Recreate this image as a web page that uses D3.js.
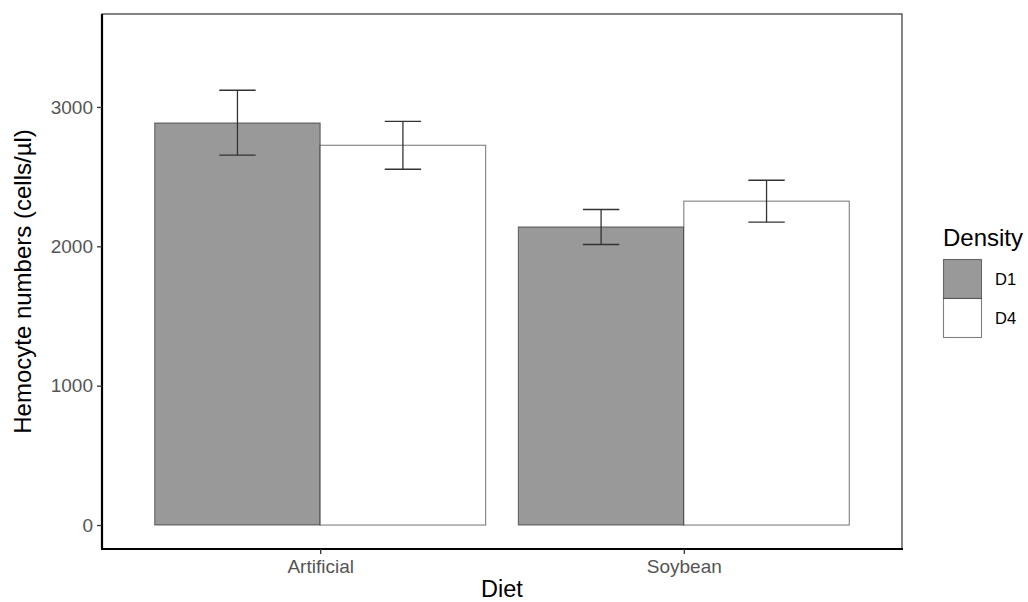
<!DOCTYPE html>
<html>
<head>
<meta charset="utf-8">
<script src="https://cdn.jsdelivr.net/npm/d3@7"></script>
<style>
  html, body { margin: 0; padding: 0; background: #fff; }
  svg { display: block; font-family: "Liberation Sans", Arial, sans-serif; }
</style>
</head>
<body>
<svg id="chart" width="1028" height="602"></svg>
<script>
// Hemocyte counts by diet and rearing density (mean ± SE)
const diets = ["Artificial", "Soybean"];
const densities = ["D1", "D4"];
const meanD1 = [2885, 2139];
const meanD4 = [2725, 2324];
const lowerD1 = [2654, 2013];
const upperD1 = [3120, 2264];
const lowerD4 = [2553, 2173];
const upperD4 = [2897, 2474];
const yTicks = [0, 1000, 2000, 3000];

const fills = { D1: "#999999", D4: "#ffffff" };

const rows = [];
diets.forEach((d, i) => {
  rows.push({ diet: d, density: "D1", mean: meanD1[i], lo: lowerD1[i], hi: upperD1[i] });
  rows.push({ diet: d, density: "D4", mean: meanD4[i], lo: lowerD4[i], hi: upperD4[i] });
});

const panel = { left: 102, right: 902, top: 14, bottom: 549 };
const svg = d3.select("#chart");

// discrete x axis: categories at 1..n with 0.6 unit padding on each side
const xUnit = d3.scaleLinear().domain([0.4, diets.length + 0.6]).range([panel.left, panel.right]);
const xPos = d => xUnit(diets.indexOf(d) + 1);
const barW = xUnit(1.455) - xUnit(1.0); // each dodged bar is ~0.45 units wide

const y = d3.scaleLinear().domain([-172, 3667]).range([panel.bottom, panel.top]);

// bars
svg.append("g").selectAll("rect").data(rows).join("rect")
  .attr("x", d => xPos(d.diet) + (d.density === "D1" ? -barW : 0))
  .attr("y", d => y(d.mean))
  .attr("width", barW)
  .attr("height", d => y(0) - y(d.mean))
  .attr("fill", d => fills[d.density])
  .attr("stroke", "#000")
  .attr("stroke-opacity", 0.5)
  .attr("stroke-width", 1.1);

// error bars
const capHalf = barW * 0.11;
const eb = svg.append("g").attr("stroke", "#333").attr("stroke-width", 1.3).attr("fill", "none");
rows.forEach(d => {
  const cx = xPos(d.diet) + (d.density === "D1" ? -barW / 2 : barW / 2);
  eb.append("line").attr("x1", cx).attr("x2", cx).attr("y1", y(d.lo)).attr("y2", y(d.hi));
  eb.append("line").attr("x1", cx - capHalf).attr("x2", cx + capHalf).attr("y1", y(d.lo)).attr("y2", y(d.lo));
  eb.append("line").attr("x1", cx - capHalf).attr("x2", cx + capHalf).attr("y1", y(d.hi)).attr("y2", y(d.hi));
});

// panel border
svg.append("rect")
  .attr("x", panel.left).attr("y", panel.top)
  .attr("width", panel.right - panel.left).attr("height", panel.bottom - panel.top)
  .attr("fill", "none").attr("stroke", "#333").attr("stroke-width", 1.2);

// y axis
const yAxis = svg.append("g")
  .attr("transform", `translate(${panel.left},0)`)
  .call(d3.axisLeft(y).tickValues(yTicks).tickSize(5).tickPadding(4).tickFormat(d3.format("d")));
yAxis.select(".domain").attr("d", `M0,${panel.top}V${panel.bottom}`).attr("stroke", "#000").attr("stroke-width", 2.2);
yAxis.selectAll(".tick line").attr("stroke", "#333").attr("stroke-width", 1.3);
yAxis.selectAll(".tick text").attr("fill", "#555").style("font-size", "19px")
  .style("font-family", "'Liberation Sans', Arial, sans-serif");

// x axis
const xScale = d3.scalePoint().domain(diets).range([xPos(diets[0]), xPos(diets[diets.length - 1])]);
const xAxis = svg.append("g")
  .attr("transform", `translate(0,${panel.bottom})`)
  .call(d3.axisBottom(xScale).tickSize(5).tickPadding(6));
xAxis.select(".domain").attr("d", `M${panel.left - 1},0H${panel.right + 1}`).attr("stroke", "#000").attr("stroke-width", 2.2);
xAxis.selectAll(".tick line").attr("stroke", "#333").attr("stroke-width", 1.3);
xAxis.selectAll(".tick text").attr("fill", "#555").style("font-size", "19px")
  .style("font-family", "'Liberation Sans', Arial, sans-serif");

// axis titles
svg.append("text")
  .attr("x", (panel.left + panel.right) / 2).attr("y", 597)
  .attr("text-anchor", "middle").attr("fill", "#000")
  .style("font-size", "23.5px").text("Diet");

svg.append("text")
  .attr("transform", `translate(31,${(panel.top + panel.bottom) / 2}) rotate(-90)`)
  .attr("text-anchor", "middle").attr("fill", "#000")
  .style("font-size", "24px").text("Hemocyte numbers (cells/µl)");

// legend
const lg = svg.append("g").attr("transform", "translate(943,0)");
lg.append("text").attr("x", 0).attr("y", 246).attr("fill", "#000")
  .style("font-size", "24px").text("Density");
densities.forEach((k, i) => {
  const top = 259.5 + i * 39;
  lg.append("rect").attr("x", 0.5).attr("y", top).attr("width", 38).attr("height", 39)
    .attr("fill", fills[k]).attr("stroke", "#000").attr("stroke-opacity", 0.5).attr("stroke-width", 1.1);
  lg.append("text").attr("x", 52).attr("y", top + 19.5).attr("dy", "0.35em").attr("fill", "#000")
    .style("font-size", "16.5px").text(k);
});
</script>
</body>
</html>
